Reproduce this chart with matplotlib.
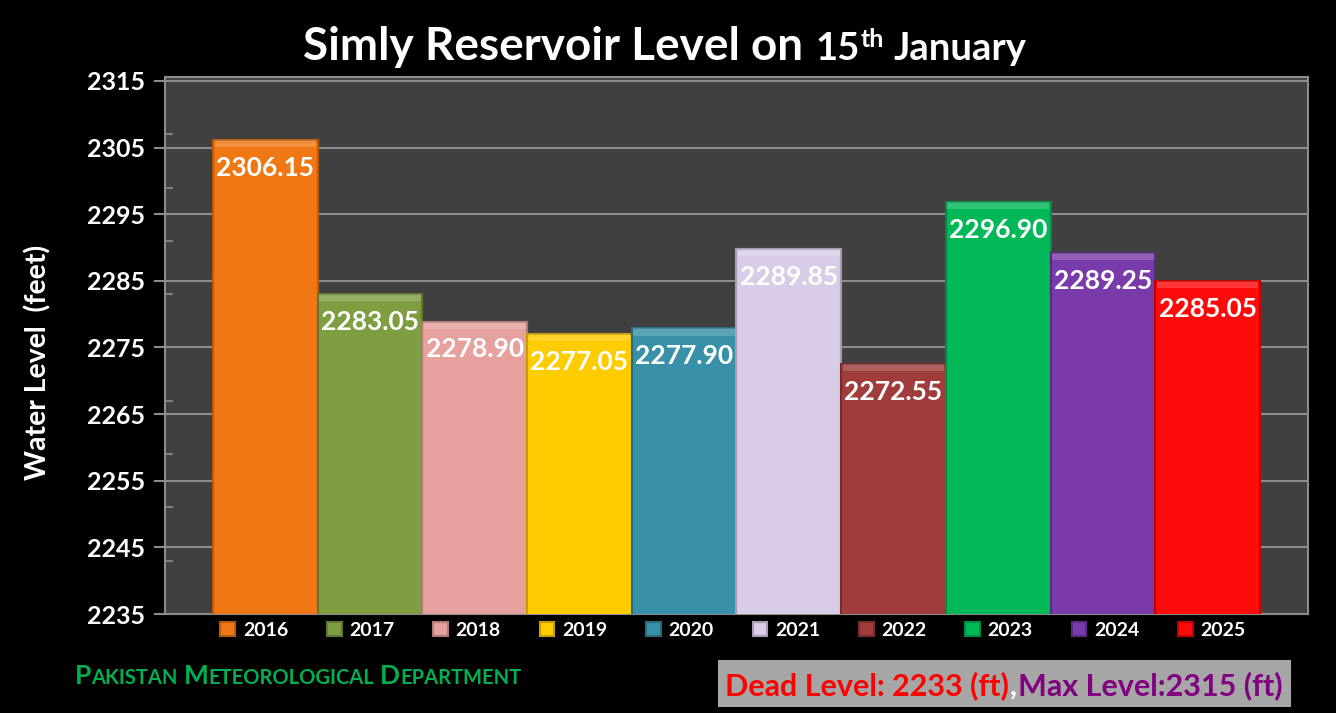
import matplotlib.pyplot as plt
from matplotlib.patches import Rectangle
import numpy as np

years = ['2016', '2017', '2018', '2019', '2020', '2021', '2022', '2023', '2024', '2025']
levels = [2306.15, 2283.05, 2278.90, 2277.05, 2277.90, 2289.85, 2272.55, 2296.90, 2289.25, 2285.05]
bar_colors = ['#F07814', '#7F9E42', '#E6A09E', '#FFCC00', '#3891A8',
              '#D9CCE6', '#A03C3C', '#00B858', '#7A3BAA', '#FF0A0A']
edge_colors = ['#B85A0C', '#5E7731', '#B07876', '#C89E00', '#286C7E',
               '#A89DB4', '#782C2C', '#008A42', '#5A2B80', '#C00000']
y_ticks = [2235, 2245, 2255, 2265, 2275, 2285, 2295, 2305, 2315]
minor_ticks = [2243, 2251, 2259, 2267, 2275, 2283, 2291, 2299, 2307]

plt.rcParams['font.family'] = ['Lato', 'DejaVu Sans']

fig = plt.figure(figsize=(13.36, 7.13), dpi=100, facecolor='black')
W, H = 1336, 713
ax = fig.add_axes([165 / W, 1 - 614 / H, 1143 / W, 537 / H])
ax.set_facecolor('#404040')

x = np.arange(len(years))
bars = ax.bar(x, levels, width=1.0, color=bar_colors, edgecolor=edge_colors,
              linewidth=1.5, zorder=3)
# soft bevel highlight along the top of each bar
ax.bar(x, [1.1] * len(x), bottom=[v - 1.1 for v in levels], width=0.97,
       color='white', alpha=0.18, linewidth=0, zorder=3.5)
for xi, v in zip(x, levels):
    ax.text(xi, v - 4.2, f'{v:.2f}', ha='center', va='center', color='white',
            fontsize=19, fontweight='bold', zorder=4)

ax.set_xlim(-0.5 - 0.46, len(years) - 0.5 + 0.46)
ax.set_ylim(2235, 2315.6)
ax.set_yticks(y_ticks)
ax.set_yticks(minor_ticks, minor=True)
ax.set_xticks([])
ax.grid(axis='y', color='#8C8C8C', linewidth=1.5, zorder=0)
ax.tick_params(axis='y', which='major', colors='#8C8C8C', length=8, width=1.5,
               labelcolor='white', labelsize=18, pad=6)
ax.tick_params(axis='y', which='minor', direction='in', colors='#8C8C8C',
               length=6, width=1.2)
for lbl in ax.get_yticklabels():
    lbl.set_fontweight('bold')
for s in ax.spines.values():
    s.set_color('#8C8C8C')
    s.set_linewidth(1.5)

fig.text(38 / W, 1 - 362 / H, 'Water Level  (feet)', rotation=90, ha='center',
         va='center', color='white', fontsize=20.5, fontweight='bold')

leg = ax.legend(bars, years, ncol=10, loc='upper center', bbox_to_anchor=(0.497, 0.018),
                frameon=False, handlelength=0.75, handleheight=0.75, handletextpad=0.4,
                columnspacing=2.0, labelcolor='white',
                prop={'weight': 'bold', 'size': 14})

renderer = fig.canvas.get_renderer()


def run(pieces, x0, y, align='left'):
    # pieces: (text, size, color, gap_px_before)
    objs = []
    for s, size, color, gap in pieces:
        t = fig.text(0, y, s, fontsize=size, color=color, fontweight='bold',
                     va='baseline', ha='left')
        objs.append((t, gap))
    widths = [t.get_window_extent(renderer).width / W + gap / W for t, gap in objs]
    xx = x0 - sum(widths) / 2 if align == 'center' else x0
    for (t, gap), w in zip(objs, widths):
        t.set_x(xx + gap / W)
        xx += w
    return objs


# title
title_objs = run([('Simly Reservoir Level on', 33, 'white', 0),
                  ('15', 27.5, 'white', 12),
                  ('th', 18, 'white', 1),
                  ('January', 27.5, 'white', 10)],
                 665 / W, 1 - 60 / H, align='center')
sup = title_objs[2][0]
sup.set_y(1 - 47 / H)

# bottom-left small caps
green = '#00B050'
run([('P', 19, green, 0), ('AKISTAN', 14.5, green, 0),
     ('M', 19, green, 6), ('ETEOROLOGICAL', 14.5, green, 0),
     ('D', 19, green, 6), ('EPARTMENT', 14.5, green, 0)],
    75 / W, 1 - 684 / H)

# level box
fig.patches.append(Rectangle((718 / W, 1 - 707 / H), 573 / W, 47 / H,
                             transform=fig.transFigure, facecolor='#A6A6A6',
                             edgecolor='none', zorder=0))
run([('Dead Level: 2233 (ft)', 22, '#FF0000', 0),
     (',', 22, 'white', 1),
     ('Max Level:2315 (ft)', 22, '#800080', 1)],
    1004 / W, 1 - 695 / H, align='center')

fig.savefig('out.png', dpi=100, facecolor='black')
